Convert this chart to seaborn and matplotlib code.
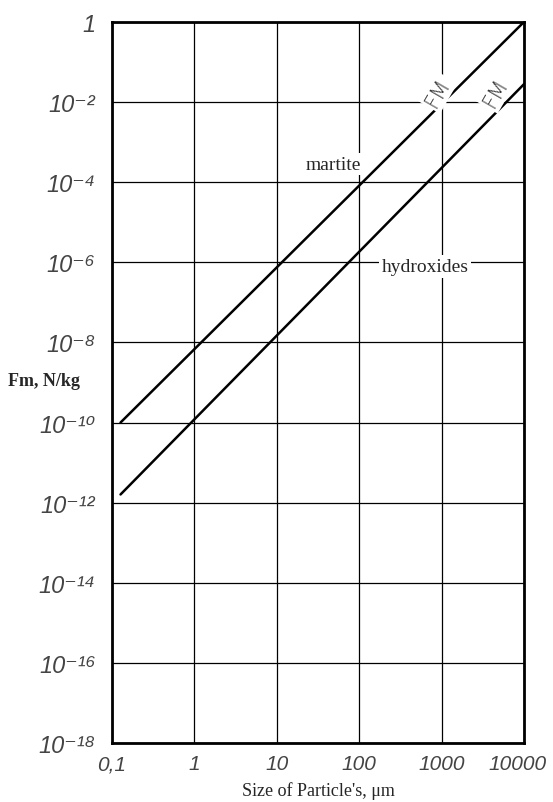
import pandas as pd
import matplotlib
matplotlib.use("Agg")
import matplotlib.pyplot as plt
import matplotlib.transforms as mtransforms
import seaborn as sns

# values (end points of each straight line)
series_names = ["martite", "hydroxides"]
size_um = [0.127, 10000]
fm_martite = [1.0e-10, 1.0]
fm_hydroxides = [1.6e-12, 2.8e-2]

x_ticks = [0.1, 1, 10, 100, 1000, 10000]
x_labels = ["0,1", "1", "10", "100", "1000", "10000"]
y_ticks = [1e-18, 1e-16, 1e-14, 1e-12, 1e-10, 1e-8, 1e-6, 1e-4, 1e-2, 1]
y_labels = ["10⁻¹⁸", "10⁻¹⁶", "10⁻¹⁴", "10⁻¹²", "10⁻¹⁰",
            "10⁻⁸", "10⁻⁶", "10⁻⁴", "10⁻²", "1"]

df = pd.DataFrame({
    "size": size_um * 2,
    "fm": fm_martite + fm_hydroxides,
    "mineral": [series_names[0]] * 2 + [series_names[1]] * 2,
})

sns.set_style("white")

fig = plt.figure(figsize=(5.53, 8.03), dpi=100)
ax = fig.add_axes([0.2025, 0.0735, 0.745, 0.8979])

sns.lineplot(data=df, x="size", y="fm", hue="mineral", palette=["black", "black"],
             linewidth=1.8, legend=False, ax=ax)

ax.set_xscale("log")
ax.set_yscale("log")
ax.set_xlim(0.1, 10000)
ax.set_ylim(1e-18, 1)
ax.set_xticks(x_ticks)
ax.set_xticklabels(x_labels)
ax.set_yticks(y_ticks)
ax.set_yticklabels(y_labels)
ax.minorticks_off()
ax.tick_params(length=0, labelcolor="#444444")
ax.tick_params(axis="x", pad=8, labelsize=15)
ax.tick_params(axis="y", pad=12, labelsize=17)
for lab in ax.get_xticklabels() + ax.get_yticklabels():
    lab.set_fontstyle("italic")
    lab.set_family(["Liberation Sans", "DejaVu Sans"])
# keep the last x label inside the figure, as in the reference
last = ax.get_xticklabels()[-1]
last.set_transform(last.get_transform() +
                   mtransforms.ScaledTranslation(-5 / 72, 0, fig.dpi_scale_trans))

ax.grid(True, color="black", linewidth=0.9)
for sp in ax.spines.values():
    sp.set_color("black")
    sp.set_linewidth(2)

ax.set_xlabel("Size of Particle's, μm", family="Liberation Serif", fontsize=13, labelpad=6)
ax.set_ylabel("")
fig.text(0.015, 0.525, "Fm, N/kg", family="Liberation Serif", fontsize=13,
         fontweight="bold", ha="left", va="center")

box = dict(facecolor="white", edgecolor="none", pad=2)
ax.text(48, 10**-3.55, "martite", family="Liberation Serif", fontsize=14,
        ha="center", va="center", bbox=box)
ax.text(630, 10**-6.1, "hydroxides", family="Liberation Serif", fontsize=14,
        ha="center", va="center", bbox=box)
ax.text(900, 10**-1.75, "FM", family="DejaVu Sans", fontsize=15, fontweight="light",
        rotation=60, ha="center", va="center", color="#333333", bbox=box)
ax.text(4500, 10**-1.75, "FM", family="DejaVu Sans", fontsize=15, fontweight="light",
        rotation=60, ha="center", va="center", color="#333333", bbox=box)

fig.savefig("out.png", dpi=100)
